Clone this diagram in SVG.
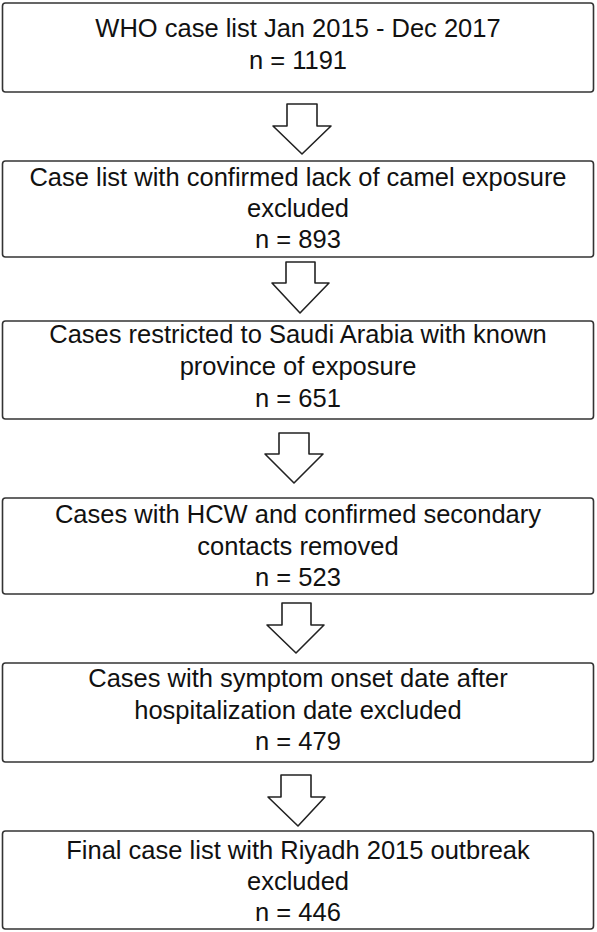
<svg xmlns="http://www.w3.org/2000/svg" width="597" height="932" viewBox="0 0 597 932">
<style>
.box{fill:#fff;stroke:#333;stroke-width:1.6}
.arr{fill:#fff;stroke:#222;stroke-width:1.6;stroke-linejoin:round}
text{font-family:"Liberation Sans",Arial,sans-serif;font-size:25.5px;fill:#111;text-anchor:middle}
</style>
<rect width="597" height="932" fill="#fff"/>
<g id="connectors">
<path class="arr" d="M287,104 H317 V126 H331 L302,154 L273,126 H287 Z"/>
<path class="arr" d="M286,262 H315 V283 H329 L300,313 L272,283 H286 Z"/>
<path class="arr" d="M279,433 H309 V454 H323 L294,483 L265,454 H279 Z"/>
<path class="arr" d="M282,603 H311 V625 H324 L296,653 L267,625 H282 Z"/>
<path class="arr" d="M281,775 H311 V797 H325 L298,826 L268,797 H281 Z"/>
</g>
<g id="n1">
<rect class="box" x="2.5" y="3" width="591" height="89" rx="3"/>
<text x="298" y="37">WHO case list Jan 2015 - Dec 2017</text>
<text x="298" y="69">n = 1191</text>
</g>
<g id="n2">
<rect class="box" x="2.5" y="161" width="591" height="96" rx="3"/>
<text x="298" y="186">Case list with confirmed lack of camel exposure</text>
<text x="298" y="217">excluded</text>
<text x="298" y="248">n = 893</text>
</g>
<g id="n3">
<rect class="box" x="2.5" y="321" width="591" height="98" rx="3"/>
<text x="298" y="343">Cases restricted to Saudi Arabia with known</text>
<text x="298" y="375">province of exposure</text>
<text x="298" y="407">n = 651</text>
</g>
<g id="n4">
<rect class="box" x="2.5" y="498" width="591" height="96" rx="3"/>
<text x="298" y="523">Cases with HCW and confirmed secondary</text>
<text x="298" y="555">contacts removed</text>
<text x="298" y="586">n = 523</text>
</g>
<g id="n5">
<rect class="box" x="2.5" y="663" width="591" height="99" rx="3"/>
<text x="298" y="687">Cases with symptom onset date after</text>
<text x="298" y="719">hospitalization date excluded</text>
<text x="298" y="750">n = 479</text>
</g>
<g id="n6">
<rect class="box" x="2.5" y="831" width="591" height="98" rx="3"/>
<text x="298" y="859">Final case list with Riyadh 2015 outbreak</text>
<text x="298" y="890">excluded</text>
<text x="298" y="921">n = 446</text>
</g>
</svg>
